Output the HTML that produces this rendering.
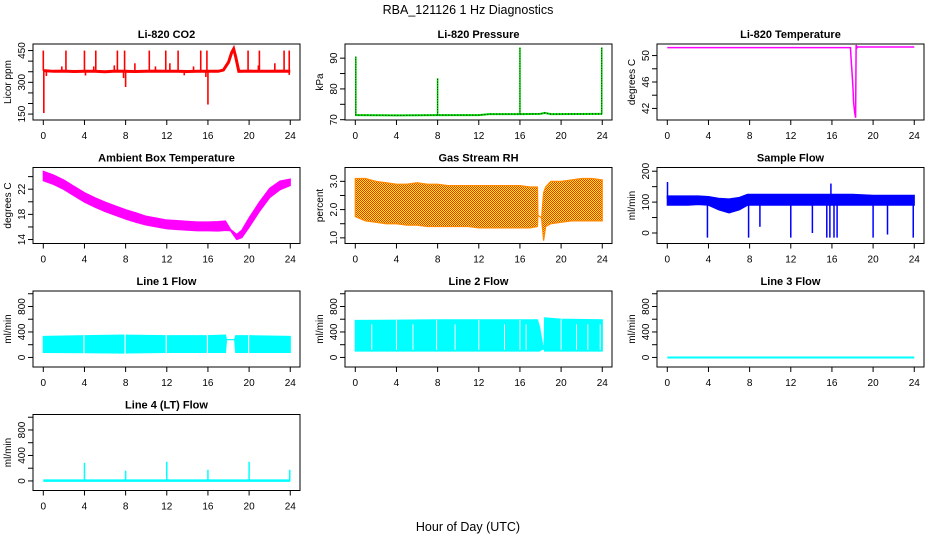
<!DOCTYPE html>
<html><head><meta charset="utf-8">
<style>
html,body{margin:0;padding:0;background:#fff;}
svg{display:block;font-family:"Liberation Sans",Arial,sans-serif;}
</style></head>
<body>
<svg id="chart" width="936" height="540" viewBox="0 0 936 540" xmlns="http://www.w3.org/2000/svg">
<defs>
<pattern id="rhpat" width="2" height="2" patternUnits="userSpaceOnUse">
<rect width="2" height="2" fill="#ffff00"/><rect width="1" height="1" fill="#ff2200"/><rect x="1" y="1" width="1" height="1" fill="#ff2200"/>
</pattern>
</defs>
<text x="468" y="14" text-anchor="middle" font-size="12.5">RBA_121126  1 Hz Diagnostics</text>
<text x="468" y="531" text-anchor="middle" font-size="12.5">Hour of Day (UTC)</text>
</svg>
<script>
// ---------- data ----------
const xTicks = [0,4,8,12,16,20,24];

const co2BaseHours = [0,1,2,3,4,5,6,7,8,9,10,11,12,13,14,15,16,17,17.5,18,18.3,18.5,18.7,19,20,21,22,23,24];
const co2BaseVals  = [355,352,353,351,352,352,350,353,352,351,352,353,352,352,351,352,352,352,358,395,440,458,420,352,353,352,352,353,352];
const co2SpikeHours = [0,2.2,4,5.1,7.2,7.9,10.3,11.9,13.1,15.3,15.9,19.9,21.0,23.4,23.9,1.8,4.9,6.9,8.9,10.9,12.3,14.6,20.9,22.5];
const co2SpikeVals  = [450,450,450,450,450,450,450,450,450,450,450,450,450,450,450,375,375,380,390,375,390,375,380,390];
const co2DipHours = [0.05,8.0,16.0,0.3,7.8,15.8,23.9,4.1,13.7];
const co2DipVals  = [155,278,195,330,320,325,335,332,333];

const presBaseHours = [0,4,8,12,13,16,18,18.4,19,24];
const presBaseVals  = [71.5,71.4,71.5,71.5,71.8,71.8,71.9,72.2,71.8,71.9];
const presSpikeHours = [0.05,8.0,16.0,23.95];
const presSpikeVals  = [90.5,83.5,93.5,93.5];

const tempHours = [0,17.8,17.85,17.95,18.05,18.1,18.2,18.3,18.35,18.45,18.5,24];
const tempVals  = [51.2,51.2,49.8,47.5,45,43,41.5,40.6,51.6,51.2,51.3,51.3];

const ambHours = [0,1,2,3,4,5,6,7,8,9,10,11,12,13,14,15,16,17,17.7,18.2,18.8,19.3,20,21,22,23,24];
const ambMid   = [24.1,23.5,22.7,21.7,20.7,19.9,19.2,18.6,18.0,17.5,17.0,16.7,16.4,16.3,16.2,16.1,16.1,16.1,16.2,15.5,14.4,14.9,16.7,19.2,21.4,22.6,23.1];
const ambHalf  = [0.75,0.75,0.75,0.75,0.75,0.75,0.75,0.75,0.75,0.75,0.7,0.7,0.7,0.7,0.7,0.7,0.7,0.75,0.75,0.1,0.4,0.6,0.75,0.75,0.75,0.7,0.5];

const rhHours = [0,1,2,3,4,5,6,7,8,9,10,11,12,13,14,15,16,17,17.7,17.75,18.1,18.3,18.5,19,20,21,22,23,24];
const rhLow   = [1.75,1.6,1.55,1.5,1.5,1.45,1.45,1.4,1.4,1.4,1.4,1.4,1.35,1.35,1.35,1.35,1.35,1.35,1.4,1.8,1.7,0.9,1.4,1.5,1.55,1.6,1.6,1.6,1.6];
const rhHigh  = [3.1,3.1,3.0,2.95,2.9,2.9,2.95,2.9,2.9,2.85,2.85,2.85,2.85,2.85,2.85,2.85,2.85,2.8,2.8,1.8,1.7,2.6,2.8,3.0,3.0,3.05,3.1,3.1,3.05];

const sfHours = [0,1,2,3,4,5,6,7,7.8,8,9,10,12,14,16,18,20,22,24];
const sfLow   = [90,90,90,92,90,75,65,75,90,90,90,90,90,90,90,90,90,90,90];
const sfHigh  = [120,120,120,120,118,112,110,115,125,125,125,125,125,125,125,125,122,122,122];
const sfDipHours = [3.9,7.9,9.0,12.0,14.1,15.5,15.8,16.2,16.5,20.0,21.4,23.9];
const sfDipVals  = [-15,-15,20,-15,0,-15,-15,-15,-15,-15,-5,-15];
const sfPeakHours = [0.02,15.9];
const sfPeakVals  = [165,160];

const l1Hours = [0,4,8,12,16,17.7,17.8,18.6,18.7,20,24];
const l1Low   = [80,75,70,80,80,80,280,280,80,80,80];
const l1High  = [330,340,350,340,340,350,280,280,340,340,330];
const l1GapHours = [3.95,7.95,11.95,15.95,19.95];

const l2Hours = [0,4,8,12,16,17.7,17.9,18.2,18.35,18.4,20,24];
const l2Low   = [100,100,100,100,100,100,100,130,130,100,100,100];
const l2High  = [580,585,590,590,590,590,480,200,150,620,600,590];
const l2GapHours = [1.6,4.0,5.6,7.9,9.7,12.0,14.5,16.0,16.6,20.0,21.5,22.6,23.8];
const l2GapTops  = [520,590,520,590,520,590,520,590,520,600,520,520,520];

const l3Hours = [0,24];
const l3Vals  = [0,0];

const l4Hours = [0,24];
const l4Vals  = [5,5];
const l4SpikeHours = [4.0,8.0,12.0,16.0,20.0,23.95];
const l4SpikeVals  = [284,160,300,175,300,175];

// ---------- layout ----------
const NS = "http://www.w3.org/2000/svg";
const svg = document.getElementById('chart');
const panels = [
 {id:'co2', col:0,row:0,ymin:122,ymax:481,title:'Li-820 CO2',ylab:'Licor ppm',ticks:[150,200,250,300,350,400,450],labels:[150,300,450]},
 {id:'pressure', col:1,row:0,ymin:69.9,ymax:94.6,title:'Li-820 Pressure',ylab:'kPa',ticks:[70,75,80,85,90],labels:[70,80,90]},
 {id:'li820-temp', col:2,row:0,ymin:40.25,ymax:51.75,title:'Li-820 Temperature',ylab:'degrees C',ticks:[42,44,46,48,50],labels:[42,46,50]},
 {id:'ambient-temp', col:0,row:1,ymin:13.37,ymax:25.45,title:'Ambient Box Temperature',ylab:'degrees C',ticks:[14,16,18,20,22,24],labels:[14,18,22]},
 {id:'gas-rh', col:1,row:1,ymin:0.8,ymax:3.49,title:'Gas Stream RH',ylab:'percent',ticks:[1.0,1.5,2.0,2.5,3.0],labels:['1.0','2.0','3.0']},
 {id:'sample-flow', col:2,row:1,ymin:-34,ymax:212,title:'Sample Flow',ylab:'ml/min',ticks:[0,50,100,150,200],labels:[0,100,200]},
 {id:'line1-flow', col:0,row:2,ymin:-150,ymax:1043,title:'Line 1 Flow',ylab:'ml/min',ticks:[0,200,400,600,800,1000],labels:[0,400,800]},
 {id:'line2-flow', col:1,row:2,ymin:-150,ymax:1043,title:'Line 2 Flow',ylab:'ml/min',ticks:[0,200,400,600,800,1000],labels:[0,400,800]},
 {id:'line3-flow', col:2,row:2,ymin:-150,ymax:1043,title:'Line 3 Flow',ylab:'ml/min',ticks:[0,200,400,600,800,1000],labels:[0,400,800]},
 {id:'line4-flow', col:0,row:3,ymin:-150,ymax:1043,title:'Line 4 (LT) Flow',ylab:'ml/min',ticks:[0,200,400,600,800,1000],labels:[0,400,800]}
];

function el(tag, parent){ const e=document.createElementNS(NS,tag); parent.appendChild(e); return e; }

const P = {};
panels.forEach(p=>{
  const bx = 33 + 312*p.col, by = 44 + 123.5*p.row, bw = 267, bh = 76;
  p.bx=bx; p.by=by; p.bw=bw; p.bh=bh;
  p.sx = h => bx + 10.3 + h*10.29;
  p.sy = v => by + bh - (v-p.ymin)/(p.ymax-p.ymin)*bh;
  const g = el('g', svg);
  
  
  p.g = g;
  const cp = el('clipPath', g); cp.setAttribute('id','clip-'+p.id);
  const cr = el('rect', cp); cr.setAttribute('x',bx); cr.setAttribute('y',by); cr.setAttribute('width',bw); cr.setAttribute('height',bh);
  const dg = el('g', g);
  dg.setAttribute('clip-path','url(#clip-'+p.id+')');
  
  
  p.d = dg;
  // title
  const t = el('text', g);
  
  
  t.setAttribute('x', bx+bw/2); t.setAttribute('y', by-6);
  t.setAttribute('text-anchor','middle'); t.setAttribute('font-size','11'); t.setAttribute('font-weight','bold');
  t.textContent = p.title;
  // y label
  const yl = el('text', g);
  
  
  const ylx = bx-22, yly = by+bh/2;
  yl.setAttribute('transform','translate('+ylx+','+yly+') rotate(-90)');
  yl.setAttribute('text-anchor','middle'); yl.setAttribute('font-size','10');
  yl.textContent = p.ylab;
  // y ticks
  p.ticks.forEach(v=>{
    const tk = el('line', g);
    
    
    tk.setAttribute('x1',bx); tk.setAttribute('x2',bx-5);
    tk.setAttribute('y1',p.sy(v)); tk.setAttribute('y2',p.sy(v));
    tk.setAttribute('stroke','#000'); tk.setAttribute('stroke-width','1');
  });
  const yax = el('line', g);
  
  
  yax.setAttribute('x1',bx); yax.setAttribute('x2',bx);
  yax.setAttribute('y1',p.sy(p.ticks[0])); yax.setAttribute('y2',p.sy(p.ticks[p.ticks.length-1]));
  yax.setAttribute('stroke','#000');
  p.labels.forEach(v=>{
    const tl = el('text', g);
    
    
    const lx = bx-8, ly = p.sy(parseFloat(v));
    tl.setAttribute('transform','translate('+lx+','+ly+') rotate(-90)');
    tl.setAttribute('text-anchor','middle'); tl.setAttribute('font-size','10');
    tl.textContent = v;
  });
  // x ticks
  xTicks.forEach(h=>{
    const tk = el('line', g);
    
    
    tk.setAttribute('x1',p.sx(h)); tk.setAttribute('x2',p.sx(h));
    tk.setAttribute('y1',by+bh); tk.setAttribute('y2',by+bh+5);
    tk.setAttribute('stroke','#000');
    const tl = el('text', g);
    
    
    tl.setAttribute('x',p.sx(h)); tl.setAttribute('y',by+bh+19);
    tl.setAttribute('text-anchor','middle'); tl.setAttribute('font-size','10');
    tl.textContent = h;
  });
  P[p.id]=p;
});

function line(p, hs, vs, color, w, name, dash){
  const pl = el('polyline', p.d);
  
  
  pl.setAttribute('points', hs.map((h,i)=>p.sx(h).toFixed(2)+','+p.sy(vs[i]).toFixed(2)).join(' '));
  pl.setAttribute('fill','none'); pl.setAttribute('stroke',color); pl.setAttribute('stroke-width',w);
  if(dash) pl.setAttribute('stroke-dasharray',dash);
  return pl;
}
function band(p, hs, lo, hi, fill, name){
  const pts = hs.map((h,i)=>p.sx(h).toFixed(2)+','+p.sy(hi[i]).toFixed(2));
  for(let i=hs.length-1;i>=0;i--) pts.push(p.sx(hs[i]).toFixed(2)+','+p.sy(lo[i]).toFixed(2));
  const pg = el('polygon', p.d);
  
  
  pg.setAttribute('points', pts.join(' '));
  pg.setAttribute('fill', fill); pg.setAttribute('stroke', fill==='url(#rhpat)'?'#ff8800':fill); pg.setAttribute('stroke-width','1.2');
  return pg;
}
function vline(p, h, v1, v2, color, w, name, dash){
  const l = el('line', p.d);
  
  
  l.setAttribute('x1',p.sx(h)); l.setAttribute('x2',p.sx(h));
  l.setAttribute('y1',p.sy(v1)); l.setAttribute('y2',p.sy(v2));
  l.setAttribute('stroke',color); l.setAttribute('stroke-width',w);
  if(dash) l.setAttribute('stroke-dasharray',dash);
  return l;
}
function interp(hs, vs, h){
  for(let i=0;i<hs.length-1;i++){ if(h>=hs[i]&&h<=hs[i+1]){ const t=(h-hs[i])/(hs[i+1]-hs[i]); return vs[i]+t*(vs[i+1]-vs[i]); } }
  return vs[vs.length-1];
}

// CO2
const red='#ff0000';
line(P.co2, co2BaseHours, co2BaseVals, red, 3, 'co2-baseline');
co2SpikeHours.forEach((h,i)=>vline(P.co2, h, interp(co2BaseHours,co2BaseVals,h), co2SpikeVals[i], red, 1.6, 'co2-spike'));
co2DipHours.forEach((h,i)=>vline(P.co2, h, interp(co2BaseHours,co2BaseVals,h), co2DipVals[i], red, 1.6, 'co2-dip'));

// Pressure
line(P.pressure, presBaseHours, presBaseVals, '#00dd00', 2, 'pressure-line');
line(P.pressure, presBaseHours, presBaseVals, '#000', 1, 'pressure-line-dots', '1,2');
presSpikeHours.forEach((h,i)=>{
  vline(P.pressure, h, interp(presBaseHours,presBaseVals,h), presSpikeVals[i], '#00dd00', 1.6, 'pressure-spike');
  vline(P.pressure, h, interp(presBaseHours,presBaseVals,h), presSpikeVals[i], '#000', 0.8, 'pressure-spike-dots', '1,1.5');
});

// Li-820 temperature
line(P['li820-temp'], tempHours, tempVals, '#ff00ff', 1.5, 'li820-temp-line');

// Ambient temperature
band(P['ambient-temp'], ambHours, ambMid.map((m,i)=>m-ambHalf[i]), ambMid.map((m,i)=>m+ambHalf[i]), '#ff00ff', 'ambient-temp-band');

// RH
band(P['gas-rh'], rhHours, rhLow, rhHigh, 'url(#rhpat)', 'gas-rh-band');

// Sample flow
band(P['sample-flow'], sfHours, sfLow, sfHigh, '#0000ff', 'sample-flow-band');
sfDipHours.forEach((h,i)=>vline(P['sample-flow'], h, 95, sfDipVals[i], '#0000ff', 1.5, 'sample-flow-dip'));
sfPeakHours.forEach((h,i)=>vline(P['sample-flow'], h, 110, sfPeakVals[i], '#0000ff', 1.5, 'sample-flow-peak'));

// Line 1
band(P['line1-flow'], l1Hours, l1Low, l1High, '#00ffff', 'line1-flow-band');
l1GapHours.forEach(h=>vline(P['line1-flow'], h, 30, 400, '#fff', 1.2, 'line1-flow-gap'));

// Line 2
band(P['line2-flow'], l2Hours, l2Low, l2High, '#00ffff', 'line2-flow-band');
l2GapHours.forEach((h,i)=>vline(P['line2-flow'], h, 120, l2GapTops[i], '#fff', 1, 'line2-flow-gap'));

// Line 3
line(P['line3-flow'], l3Hours, l3Vals, '#00ffff', 2, 'line3-flow-line');

// Line 4
line(P['line4-flow'], l4Hours, l4Vals, '#00ffff', 2.5, 'line4-flow-line');
l4SpikeHours.forEach((h,i)=>vline(P['line4-flow'], h, 0, l4SpikeVals[i], '#00ffff', 1.5, 'line4-flow-spike'));

// boxes on top
panels.forEach(p=>{
  const r = el('rect', p.g);
  
  
  r.setAttribute('x',p.bx); r.setAttribute('y',p.by); r.setAttribute('width',p.bw); r.setAttribute('height',p.bh);
  r.setAttribute('fill','none'); r.setAttribute('stroke','#000'); r.setAttribute('stroke-width','1');
});
</script>
</body></html>
